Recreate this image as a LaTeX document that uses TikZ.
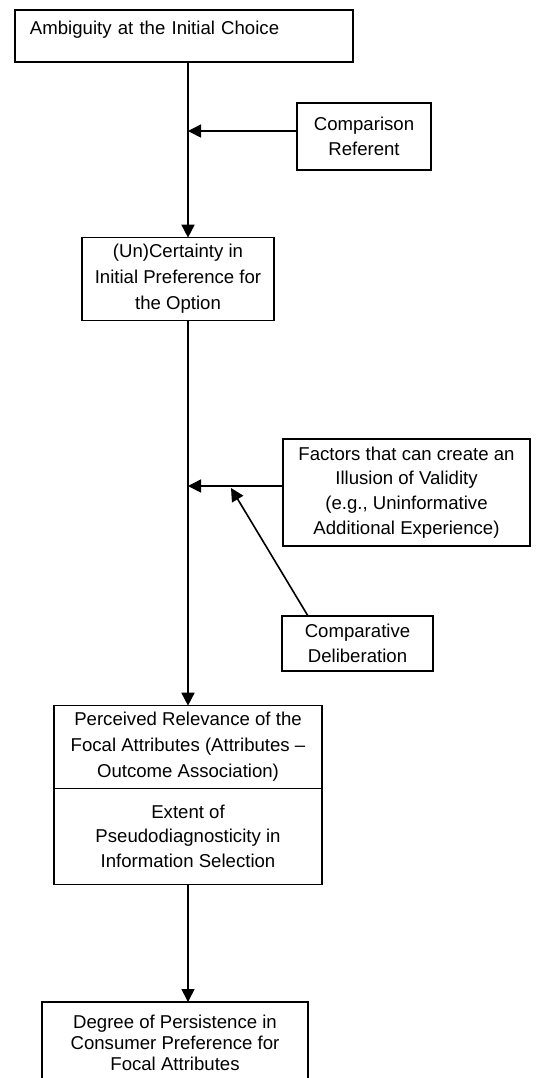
\documentclass[tikz,border=0pt]{standalone}
\usepackage{fontspec}
\setmainfont{Liberation Sans}
\usetikzlibrary{arrows.meta, positioning}
\tikzstyle{box}=[draw, line width=0.8pt, outer sep=0pt, align=center, font=\fontsize{9.3}{12.4}\selectfont]
\tikzstyle{link}=[->, line width=0.8pt]

\begin{document}
\begin{tikzpicture}[x=0.5pt, y=-0.5pt, >={Triangle[length=6.5pt, width=6.5pt]}]
\useasboundingbox (0,0) rectangle (540,1078);
\coordinate (spine) at (188,0);
\node[box, anchor=north west, align=left, text width=154pt, inner xsep=7.5pt, inner ysep=3pt, text height=9pt, text depth=11pt] at (15,10) (amb) {Ambiguity at the Initial Choice};
\node[box, minimum width=67pt, minimum height=33.5pt] at (364,136.5) (cmp_ref) {Comparison\\Referent};
\node[box, minimum width=96pt, minimum height=40.5pt, font=\fontsize{9.3}{13}\selectfont] at (178,279) (cert) {(Un)Certainty in\\Initial Preference for\\the Option};
\node[box, minimum width=123.5pt, minimum height=53.5pt] at (406.5,492.5) (factors) {Factors that can create an\\Illusion of Validity\\(e.g., Uninformative\\Additional Experience)};
\node[box, minimum width=75.5pt, minimum height=27.5pt] at (357.5,643.5) (cmp_del) {Comparative\\Deliberation};
\node[box, minimum width=134pt, minimum height=40pt, font=\fontsize{9.3}{13}\selectfont] at (188,747) (perc) {Perceived Relevance of the\\Focal Attributes (Attributes --\\Outcome Association)};
\node[box, below = 0pt of perc, minimum width=134pt, minimum height=48pt] (pseudo) {Extent of\\Pseudodiagnosticity in\\Information Selection};
\node[box, minimum width=133pt, minimum height=41pt, font=\fontsize{9.3}{10.5}\selectfont] at (175,1043) (deg) {Degree of Persistence in\\Consumer Preference for\\Focal Attributes};
\coordinate (del_tip) at (231,488);

\draw[link] (amb.south -| spine) -- (cert.north -| spine);
\draw[link] ([yshift=2.75pt]cmp_ref.west) coordinate (cr_w) -- (cr_w -| spine);
\draw[link] (cert.south -| spine) -- (perc.north -| spine);
\draw[link] ([yshift=3.25pt]factors.west) coordinate (fa_w) -- (fa_w -| spine);
\draw[link] ([xshift=-24.75pt]cmp_del.north) -- (del_tip);
\draw[link] (pseudo.south -| spine) -- (deg.north -| spine);
\end{tikzpicture}
\end{document}
